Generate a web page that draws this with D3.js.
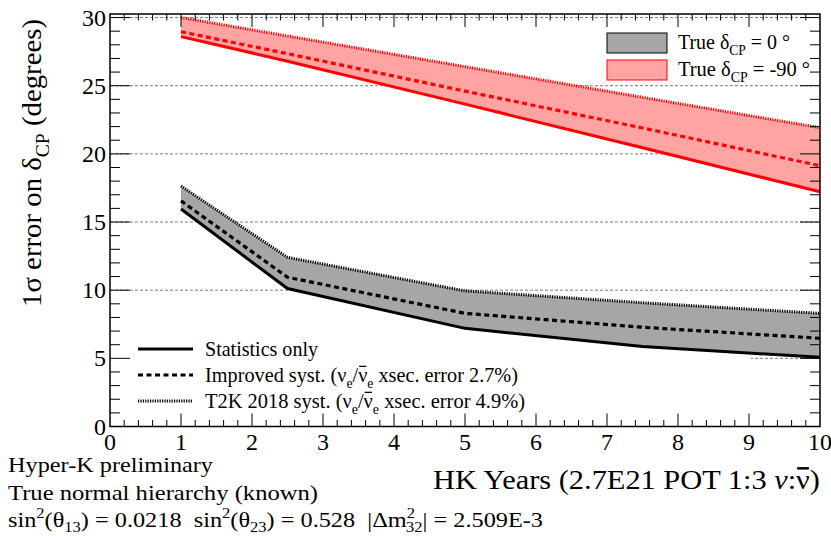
<!DOCTYPE html>
<html>
<head>
<script src="https://d3js.org/d3.v7.min.js"></script>
<style>
  body { margin: 0; background: #fff; }
  svg text { font-family: "Liberation Serif", "Times New Roman", Times, serif; }
</style>
</head>
<body>
<div id="chart"></div>
<script>
// data
var years = [1, 2.5, 5, 7.5, 10];
var cp0Stat = [15.95, 10.12, 7.2, 5.86, 5.08];
var cp0Improved = [16.55, 10.95, 8.3, 7.28, 6.47];
var cp0T2K = [17.64, 12.41, 9.95, 9.08, 8.3];
var cp90Stat = [28.6, 26.8, 23.65, 20.45, 17.22];
var cp90Improved = [28.96, 27.35, 24.6, 21.9, 19.13];
var cp90T2K = [30.0, 28.65, 26.4, 24.15, 21.92];
var xTicks = [0, 1, 2, 3, 4, 5, 6, 7, 8, 9, 10];
var yTicks = [0, 5, 10, 15, 20, 25, 30];

var W = 831, H = 536;
var x = d3.scaleLinear().domain([0, 10]).range([110, 820]);
var y = d3.scaleLinear().domain([0, 30.26]).range([426.5, 14]);

var svg = d3.select("#chart").append("svg")
  .attr("width", W).attr("height", H);

// gridlines (horizontal, dotted gray)
svg.append("g").selectAll("line")
  .data(yTicks.filter(function(d) { return d > 0; }))
  .enter().append("line")
  .attr("x1", x(0)).attr("x2", x(10))
  .attr("y1", function(d) { return y(d); })
  .attr("y2", function(d) { return y(d); })
  .attr("stroke", "#7a7a7a").attr("stroke-width", 1)
  .attr("stroke-dasharray", "3,2");

// white box behind the lower legend hides part of the y=5 gridline
svg.append("rect")
  .attr("x", x(0) + 1).attr("y", 334)
  .attr("width", 751 - x(0) - 1).attr("height", 80)
  .attr("fill", "#fff");

// bands
function band(lo, hi) {
  return d3.area()
    .x(function(d, i) { return x(years[i]); })
    .y0(function(d, i) { return y(lo[i]); })
    .y1(function(d, i) { return y(hi[i]); })(years);
}
svg.append("path").attr("d", band(cp90Stat, cp90T2K))
  .attr("fill", "#ffa3a3");
svg.append("path").attr("d", band(cp0Stat, cp0T2K))
  .attr("fill", "#a6a6a6");

var line = function(vals) {
  return d3.line()
    .x(function(d, i) { return x(years[i]); })
    .y(function(d) { return y(d); })(vals);
};
var styles = {
  solid: { w: 3, dash: null },
  dashed: { w: 3.2, dash: "5,3.5" },
  dotted: { w: 3, dash: "1.2,1.2" }
};
function drawLine(vals, color, st) {
  var p = svg.append("path").attr("d", line(vals))
    .attr("fill", "none").attr("stroke", color)
    .attr("stroke-width", styles[st].w);
  if (styles[st].dash) p.attr("stroke-dasharray", styles[st].dash);
}
drawLine(cp90Stat, "#ff0000", "solid");
drawLine(cp90Improved, "#ff0000", "dashed");
drawLine(cp90T2K, "#ff0000", "dotted");
drawLine(cp0Stat, "#000", "solid");
drawLine(cp0Improved, "#000", "dashed");
drawLine(cp0T2K, "#000", "dotted");

// frame and ticks
var frame = svg.append("g");
frame.append("rect")
  .attr("x", x(0)).attr("y", y(30.26))
  .attr("width", x(10) - x(0)).attr("height", y(0) - y(30.26))
  .attr("fill", "none").attr("stroke", "#000").attr("stroke-width", 1.5);

var xMinor = d3.range(0, 50).map(function(i) { return i * 0.2; }).filter(function(d) { return d > 0; });
var yMinor = d3.range(1, 31);
function isMajorX(d) { return Math.abs(d - Math.round(d)) < 1e-6; }
function isMajorY(d) { return d % 5 === 0; }

// bottom and top x ticks
[[y(0), -1], [y(30.26), 1]].forEach(function(s) {
  frame.append("g").selectAll("line").data(xMinor).enter().append("line")
    .attr("x1", function(d) { return x(d); }).attr("x2", function(d) { return x(d); })
    .attr("y1", s[0])
    .attr("y2", function(d) { return s[0] + s[1] * (isMajorX(d) ? 13 : 6.5); })
    .attr("stroke", "#000").attr("stroke-width", 1);
});
// left and right y ticks
[[x(0), 1], [x(10), -1]].forEach(function(s) {
  frame.append("g").selectAll("line").data(yMinor).enter().append("line")
    .attr("y1", function(d) { return y(d); }).attr("y2", function(d) { return y(d); })
    .attr("x1", s[0])
    .attr("x2", function(d) { return s[0] + s[1] * (isMajorY(d) ? 20 : 10); })
    .attr("stroke", "#000").attr("stroke-width", 1);
});

// tick labels
svg.append("g").selectAll("text").data(yTicks).enter().append("text")
  .attr("x", 106).attr("y", function(d) { return y(d) + 8; })
  .attr("text-anchor", "end").attr("font-size", 24)
  .text(function(d) { return d; });
svg.append("g").selectAll("text").data(xTicks).enter().append("text")
  .attr("x", function(d) { return x(d); }).attr("y", 450)
  .attr("text-anchor", "middle").attr("font-size", 24)
  .text(function(d) { return d; });

// rich text helper: parts [{t, sub, sup, bar, dx}]
function rich(sel, parts, fs, subShift) {
  var shift = 0;
  subShift = subShift || 0.3;
  parts.forEach(function(p) {
    var target = p.sub ? subShift * fs : (p.sup ? -0.42 * fs : 0);
    var t = sel.append("tspan").text(p.t).attr("dy", target - shift);
    shift = target;
    if (p.sub || p.sup) t.attr("font-size", fs * 0.68);
    if (p.dx) t.attr("dx", p.dx);
    if (p.it) t.attr("font-style", "italic");
    if (p.bar) t.classed("bar", true);
  });
  return sel;
}
function fit(sel, len) {
  sel.attr("textLength", len).attr("lengthAdjust", "spacingAndGlyphs");
  return sel;
}

// axis titles
var yt = svg.append("text").attr("transform", "translate(41,307) rotate(-90)")
  .attr("font-size", 28);
rich(yt, [{t: "1\u03c3 error on \u03b4"}, {t: "CP", sub: true}, {t: " (degrees)"}], 28);
fit(yt, 288);

var xt = svg.append("text").attr("x", 433).attr("y", 489)
  .attr("font-size", 28);
rich(xt, [{t: "HK Years (2.7E21 POT 1:3 "}, {t: "\u03bd", it: true}, {t: ":"}, {t: "\u03bd", bar: true}, {t: ")"}], 28);
fit(xt, 387);

// top legend
var legTop = [
  { label: "0", fill: "#a6a6a6", stroke: "#000", y: 33, len: 112 },
  { label: "-90", fill: "#ffa3a3", stroke: "#ff0000", y: 60, len: 132 }
];
legTop.forEach(function(l) {
  svg.append("rect").attr("x", 607).attr("y", l.y).attr("width", 60).attr("height", 20)
    .attr("fill", l.fill).attr("stroke", l.stroke).attr("stroke-width", 1);
  var t = svg.append("text").attr("x", 678).attr("y", l.y + 16).attr("font-size", 21);
  rich(t, [{t: "True \u03b4"}, {t: "CP", sub: true}, {t: " = " + l.label + " \u00b0"}], 21);
  fit(t, l.len);
});

// bottom legend
var legBottom = [
  { st: "solid", y: 349, len: 113, parts: [{t: "Statistics only"}] },
  { st: "dashed", y: 375, len: 313, parts: [{t: "Improved syst. (\u03bd"}, {t: "e", sub: true}, {t: "/"}, {t: "\u03bd", bar: true}, {t: "e", sub: true}, {t: " xsec. error 2.7%)"}] },
  { st: "dotted", y: 401, len: 320, parts: [{t: "T2K 2018 syst. (\u03bd"}, {t: "e", sub: true}, {t: "/"}, {t: "\u03bd", bar: true}, {t: "e", sub: true}, {t: " xsec. error 4.9%)"}] }
];
legBottom.forEach(function(l) {
  var p = svg.append("line").attr("x1", 138).attr("x2", 193).attr("y1", l.y).attr("y2", l.y)
    .attr("stroke", "#000").attr("stroke-width", styles[l.st].w);
  if (styles[l.st].dash) p.attr("stroke-dasharray", styles[l.st].dash);
  var t = svg.append("text").attr("x", 205).attr("y", l.y + 7).attr("font-size", 21);
  rich(t, l.parts, 21);
  fit(t, l.len);
});

// info text bottom-left
var info = svg.append("g");
fit(info.append("text").attr("x", 8).attr("y", 472).attr("font-size", 22).text("Hyper-K preliminary"), 205);
fit(info.append("text").attr("x", 8).attr("y", 500).attr("font-size", 22).text("True normal hierarchy (known)"), 310);
var s3 = info.append("text").attr("x", 8).attr("y", 527).attr("font-size", 22);
rich(s3, [
  {t: "sin"}, {t: "2", sup: true}, {t: "(\u03b8"}, {t: "13", sub: true}, {t: ") = 0.0218\u00a0\u00a0sin"},
  {t: "2", sup: true}, {t: "(\u03b8"}, {t: "23", sub: true}, {t: ") = 0.528\u00a0\u00a0|\u0394m"},
  {t: "2", sup: true}, {t: "32", sub: true, dx: -8}, {t: "| = 2.509E-3"}
], 22, 0.22);
fit(s3, 535);

// overbars on anti-neutrinos
svg.selectAll("tspan.bar").each(function() {
  var b = this.getBBox();
  var fs = parseFloat(getComputedStyle(this).fontSize);
  svg.append("line")
    .attr("x1", b.x + 1).attr("x2", b.x + b.width - 1)
    .attr("y1", b.y + b.height * 0.14).attr("y2", b.y + b.height * 0.14)
    .attr("stroke", "#000").attr("stroke-width", fs > 24 ? 2.5 : 1.3);
});
</script>
</body>
</html>
